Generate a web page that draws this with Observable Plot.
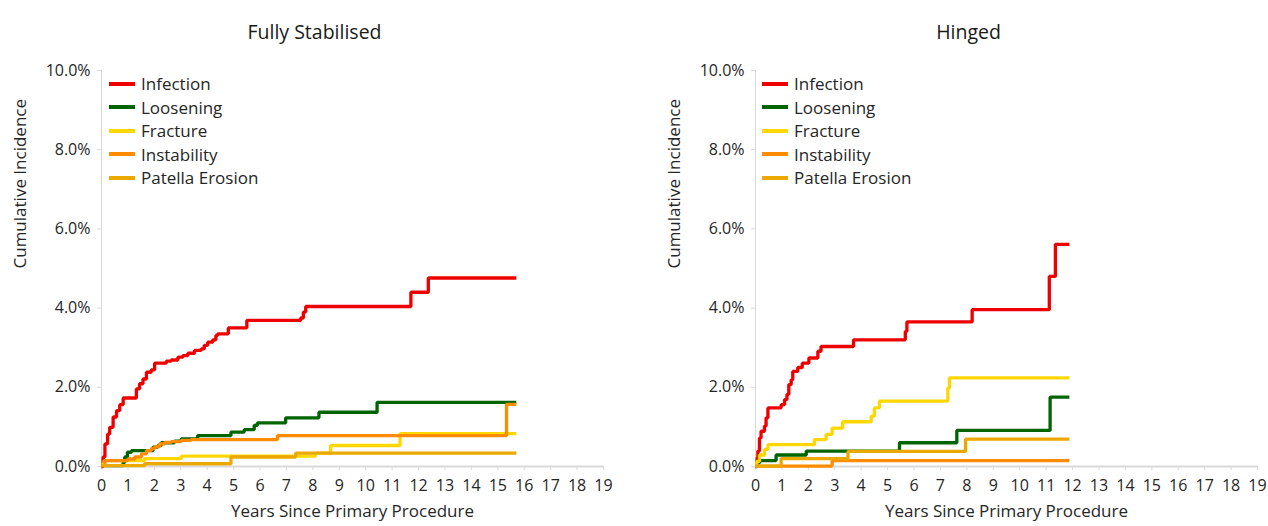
<!DOCTYPE html>
<html>
<head>
<meta charset="utf-8">
<script src="https://cdn.jsdelivr.net/npm/d3@7"></script>
<script src="https://cdn.jsdelivr.net/npm/@observablehq/plot@0.6"></script>
<style>
  body { margin: 0; background: #fff; font-family: "Open Sans", "Noto Sans", sans-serif; }
  #wrap { display: flex; width: 1268px; height: 526px; }
  .panel { position: relative; width: 634px; height: 526px; }
  .legend { position: absolute; top: 72px; font-size: 17px; color: #262626; }
  .legend .row { display: flex; align-items: center; height: 23.5px; white-space: nowrap; }
  .legend .sw { display: inline-block; width: 26px; height: 4px; margin-right: 6px; }
</style>
</head>
<body>
<div id="wrap"></div>
<script>
// ---- data (years since primary procedure, cumulative incidence %) ----
const seriesNames = ["Infection", "Loosening", "Fracture", "Instability", "Patella Erosion"];
const seriesColors = ["#ee0000", "#006400", "#ffd700", "#ff8c00", "#eba900"];
const panelTitles = ["Fully Stabilised", "Hinged"];
const xTicks = d3.range(0, 20);
const yTicks = [0, 2, 4, 6, 8, 10];

const fsInfection = [[0,0],[0.06,0.24],[0.13,0.57],[0.23,0.82],[0.31,0.99],[0.44,1.25],[0.57,1.41],[0.69,1.56],[0.82,1.73],[1.32,1.96],[1.44,2.09],[1.57,2.21],[1.70,2.38],[1.88,2.44],[2.01,2.61],[2.45,2.66],[2.64,2.69],[2.89,2.76],[3.08,2.80],[3.27,2.86],[3.52,2.93],[3.77,2.97],[3.89,3.06],[4.02,3.14],[4.21,3.20],[4.33,3.31],[4.40,3.35],[4.80,3.50],[5.50,3.69],[7.54,3.75],[7.64,3.90],[7.73,4.04],[11.71,4.40],[12.37,4.76],[15.70,4.76]];
const fsLoosening = [[0,0.02],[0.82,0.10],[0.88,0.24],[0.98,0.36],[1.13,0.40],[1.95,0.49],[2.14,0.53],[2.26,0.60],[2.76,0.64],[3.02,0.70],[3.64,0.78],[4.90,0.87],[5.40,0.93],[5.78,1.04],[5.90,1.10],[6.97,1.23],[8.23,1.37],[10.43,1.62],[15.70,1.62]];
const fsFracture = [[0,0.05],[0.10,0.15],[1.63,0.20],[3.02,0.26],[8.10,0.34],[8.67,0.53],[11.30,0.83],[15.70,0.83]];
const fsInstability = [[0,0.02],[0.13,0.15],[1.00,0.19],[1.26,0.24],[1.51,0.32],[1.70,0.40],[1.88,0.45],[2.01,0.50],[2.20,0.57],[2.39,0.61],[2.64,0.63],[3.02,0.66],[3.39,0.68],[6.66,0.78],[15.33,1.57],[15.70,1.57]];
const fsPatella = [[0,0.02],[1.63,0.07],[4.90,0.24],[7.35,0.34],[15.70,0.34]];

const hgInfection = [[0,0],[0.06,0.22],[0.09,0.39],[0.15,0.72],[0.21,0.89],[0.34,1.02],[0.40,1.23],[0.47,1.48],[0.97,1.56],[1.10,1.69],[1.19,1.82],[1.26,2.07],[1.35,2.19],[1.41,2.40],[1.60,2.50],[1.77,2.61],[2.02,2.74],[2.36,2.91],[2.48,3.03],[3.71,3.20],[5.67,3.41],[5.73,3.65],[8.20,3.96],[11.12,4.80],[11.35,5.61],[11.88,5.61]];
const hgLoosening = [[0,0.09],[0.15,0.15],[0.78,0.29],[1.92,0.39],[5.45,0.60],[7.62,0.91],[11.15,1.75],[11.88,1.75]];
const hgFracture = [[0,0.02],[0.05,0.13],[0.15,0.29],[0.34,0.43],[0.47,0.55],[2.23,0.68],[2.67,0.81],[2.90,0.97],[3.30,1.13],[4.38,1.27],[4.50,1.48],[4.69,1.65],[7.28,1.98],[7.34,2.24],[11.88,2.24]];
const hgInstability = [[0,0.01],[2.90,0.15],[11.88,0.15]];
const hgPatella = [[0,0.01],[0.97,0.20],[3.50,0.38],[7.95,0.69],[11.88,0.69]];

const panels = [
  { title: panelTitles[0], series: [fsInfection, fsLoosening, fsFracture, fsInstability, fsPatella], marginLeft: 101, marginRight: 31, legendLeft: 109 },
  { title: panelTitles[1], series: [hgInfection, hgLoosening, hgFracture, hgInstability, hgPatella], marginLeft: 121, marginRight: 11, legendLeft: 128 }
];

const wrap = document.getElementById("wrap");
for (const p of panels) {
  const div = document.createElement("div");
  div.className = "panel";
  const lineMarks = p.series.map((pts, i) =>
    Plot.line(pts.map(([x, y]) => ({x, y})), {
      x: "x", y: "y", curve: "step-after",
      stroke: seriesColors[i], strokeWidth: 3.3, strokeLinejoin: "miter", strokeLinecap: "butt"
    })
  );
  const chart = Plot.plot({
    width: 634,
    height: 526,
    marginTop: 70,
    marginBottom: 60,
    marginLeft: p.marginLeft,
    marginRight: p.marginRight,
    style: { fontFamily: "'Open Sans', 'Noto Sans', sans-serif", fontSize: "16px", color: "#262626", background: "white", overflow: "visible" },
    x: { domain: [0, 19] },
    y: { domain: [0, 10] },
    marks: [
      Plot.ruleX([0], { stroke: "#d9d9d9", strokeWidth: 1 }),
      Plot.ruleY([0], { stroke: "#d9d9d9", strokeWidth: 2 }),
      Plot.axisX(xTicks, { tickSize: 4, tickPadding: 9, stroke: "#d9d9d9", fill: "#262626", fontSize: 16, label: null, tickFormat: d => String(d) }),
      Plot.axisY(yTicks, { tickSize: 4, tickPadding: 7, stroke: "#d9d9d9", fill: "#262626", fontSize: 16, label: null, tickFormat: d => d.toFixed(1) + "%" }),
      ...lineMarks,
      Plot.text([p.title], { frameAnchor: "top", dy: -45, dx: -38, fontSize: 19.5, fill: "#1a1a1a" }),
      Plot.text(["Years Since Primary Procedure"], { frameAnchor: "bottom", dy: 50, fontSize: 17, fill: "#262626" }),
      Plot.text(["Cumulative Incidence"], { frameAnchor: "left", dx: -81, rotate: -90, fontSize: 17, fill: "#262626" })
    ]
  });
  div.appendChild(chart);
  const leg = document.createElement("div");
  leg.className = "legend";
  leg.style.left = p.legendLeft + "px";
  seriesNames.forEach((name, i) => {
    const row = document.createElement("div");
    row.className = "row";
    const sw = document.createElement("span");
    sw.className = "sw";
    sw.style.background = seriesColors[i];
    row.appendChild(sw);
    row.appendChild(document.createTextNode(name));
    leg.appendChild(row);
  });
  div.appendChild(leg);
  wrap.appendChild(div);
}
</script>
</body>
</html>
